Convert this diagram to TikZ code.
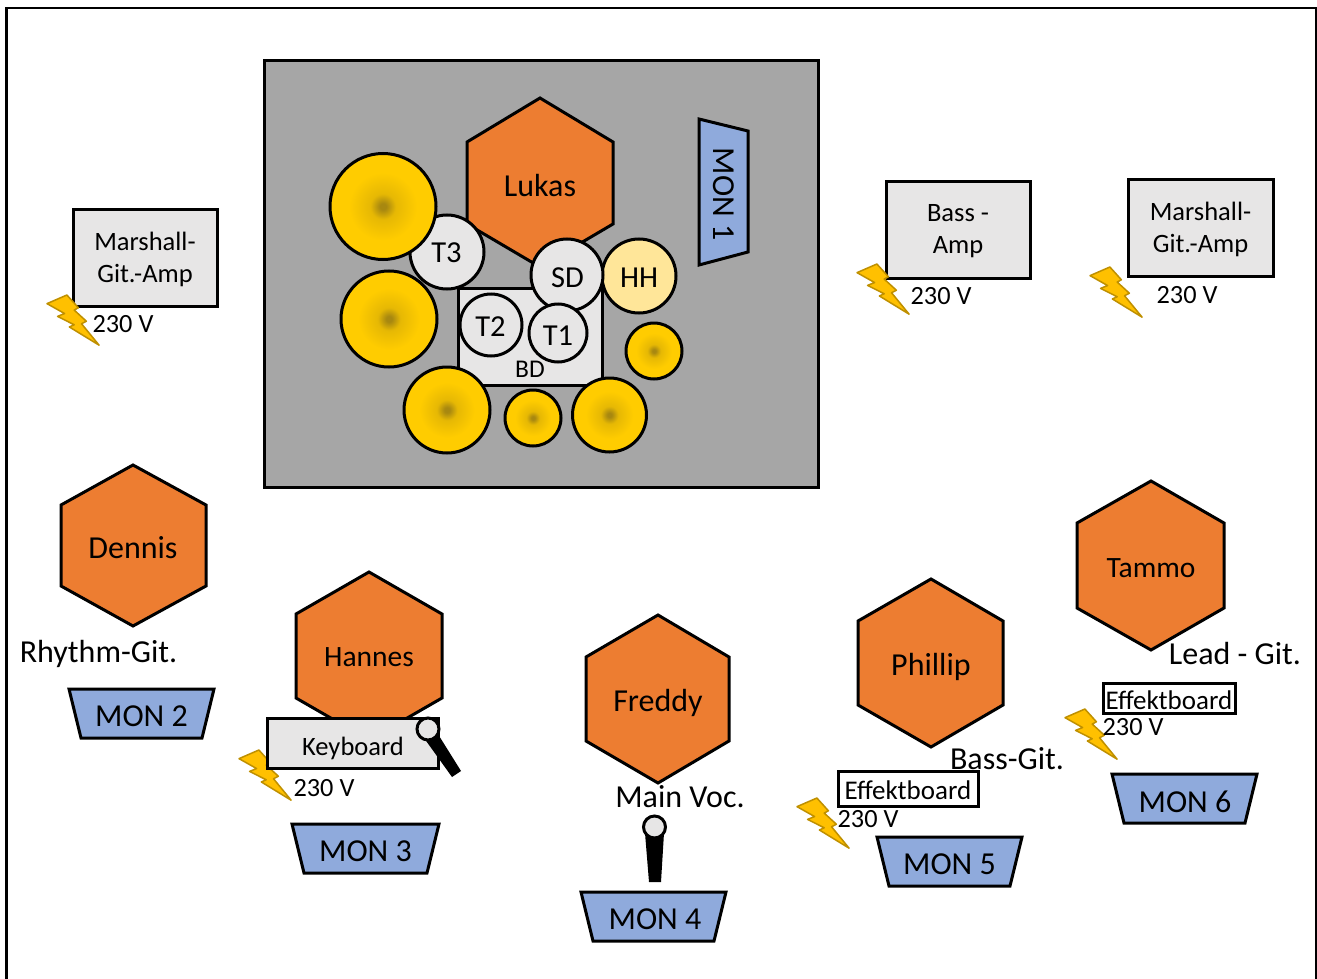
\documentclass[tikz,border=0pt]{standalone}
\usepackage{fontspec}
\setmainfont{Carlito}
\definecolor{hexfill}{HTML}{ED7D31}
\definecolor{lightg}{HTML}{E7E6E6}
\definecolor{rise}{HTML}{A6A6A6}
\definecolor{monblue}{HTML}{8FAADC}
\definecolor{cymY}{HTML}{FFCC00}
\definecolor{cymD}{HTML}{A88810}
\definecolor{cymM}{HTML}{E6B804}
\definecolor{hhfill}{HTML}{FFE699}
\definecolor{boltF}{HTML}{FFC000}
\definecolor{boltS}{HTML}{BF9000}
\pgfdeclareradialshading{cymbal}{\pgfpoint{0bp}{0bp}}{color(0bp)=(cymD); color(1.5bp)=(cymD); color(6bp)=(cymM); color(16bp)=(cymY); color(50bp)=(cymY)}
\tikzset{
  outl/.style={draw=black,line width=3pt,line join=miter},
  lab/.style={inner sep=0pt,align=center,text=black},
  big/.style={lab,font=\fontsize{32}{35}\selectfont},
  med/.style={lab,font=\fontsize{30.5}{33}\selectfont},
  namelab/.style={lab,font=\fontsize{29.5}{33}\selectfont},
  small/.style={lab,font=\fontsize{26.5}{32}\selectfont},
  eff/.style={lab,font=\fontsize{27}{30}\selectfont},
  volt/.style={lab,font=\fontsize{26.3}{28}\selectfont},
  tiny/.style={lab,font=\fontsize{25.5}{28}\selectfont},
}
% #1 name, #2 cx, #3 left, #4 right, #5 top, #6 sh1, #7 sh2, #8 bottom
\newcommand{\hexa}[8]{\path[outl,fill=hexfill] (#3,#6) -- (#2,#5) -- (#4,#6) -- (#4,#7) -- (#2,#8) -- (#3,#7) -- cycle;}
% #1 x top-left, #2 x top-right, #3 top y
\newcommand{\mon}[3]{\path[outl,fill=monblue] (#1,#3) -- (#2,#3) -- (#2-12,#3+49) -- (#1+12,#3+49) -- cycle;}
\newcommand{\cym}[3]{\shade[shading=cymbal] (#1,#2) circle[radius=#3]; \draw[outl] (#1,#2) circle[radius=#3];}
\newcommand{\bolt}[2]{\begin{scope}[shift={(#1,#2)},scale=0.96]
\path[draw=boltS,fill=boltF,line width=1.5pt,line join=round] (0,9) -- (20.7,0) -- (32.7,13.3) -- (28.3,15.7) -- (41,27.3) -- (36,30) -- (54.3,52.3) -- (23.3,33.3) -- (28.3,31) -- (11,22.3) -- (18.3,19.3) -- cycle;
\end{scope}}
\begin{document}
\begin{tikzpicture}[x=1pt,y=-1pt]
\useasboundingbox (0,0) rectangle (1317,979);
\fill[white] (0,0) rectangle (1317,979);
\draw[draw=black,line width=2.2pt] (6.5,990) -- (6.5,8) -- (1316,8) -- (1316,990);
% riser
\draw[outl,fill=rise] (264,61) rectangle (818,487);
% Lukas
\hexa{lukas}{540}{467}{613}{98}{142}{224}{267}
\node[big] (lukasL) at (540,185.5) {Lukas};
% BD
\draw[outl,fill=lightg] (458,288) rectangle (602,385);
\node[tiny] (bd) at (530,369) {BD};
% HH
\draw[outl,fill=hhfill] (639,276) circle[radius=37];
\node[med] (hh) at (639,278) {HH};
% SD
\draw[outl,fill=lightg] (567,275) circle[radius=36];
\node[med] (sd) at (567.5,278) {SD};
% T3
\draw[outl,fill=lightg] (447,252) circle[radius=37];
\node[med] (t3) at (446.5,253) {T3};
% T2, T1
\draw[outl,fill=lightg] (491,325) circle[radius=31];
\node[med] (t2) at (490.5,327) {T2};
\draw[outl,fill=lightg] (558,333) circle[radius=29];
\node[med] (t1) at (558,335.5) {T1};
% cymbals
\cym{383}{206.5}{53}
\cym{389}{319}{48}
\cym{447}{410}{43}
\cym{533}{418}{28}
\cym{609.5}{415}{37}
\cym{654}{351}{28}
% MON 1
\path[outl,fill=monblue] (699,119) -- (748,131) -- (748,252) -- (699,265) -- cycle;
\node[big,rotate=-90] (mon1) at (724,194) {MON 1};
% amps
\draw[outl,fill=lightg] (73,209) rectangle (217,306);
\node[small] (amp1) at (145,259) {Marshall-\\Git.-Amp};
\draw[outl,fill=lightg] (886,181) rectangle (1030,278);
\node[small] (amp2) at (958,231.5) {Bass -\\Amp};
\draw[outl,fill=lightg] (1128,179) rectangle (1273,276);
\node[small] (amp3) at (1200.5,229) {Marshall-\\Git.-Amp};
% bolts
\bolt{47}{295}
\bolt{857}{264}
\bolt{1090}{267}
\bolt{239}{750}
\bolt{1065}{709}
\bolt{797}{798}
\node[volt] (v1) at (123,324) {230 V};
\node[volt] (v2) at (941,296) {230 V};
\node[volt] (v3) at (1187,295) {230 V};
\node[volt] (v4) at (324,788) {230 V};
\node[volt] (v5) at (868,819) {230 V};
\node[volt] (v6) at (1133,727) {230 V};
% musicians
\hexa{dennis}{133}{61}{206}{465}{505}{586}{626}
\node[big] (dennisL) at (133,547.5) {Dennis};
\hexa{hannes}{369}{296}{442}{572}{614}{698}{740}
\node[namelab] (hannesL) at (369,657.5) {Hannes};
\hexa{freddy}{658}{586}{729}{615}{657}{741}{783}
\node[big] (freddyL) at (658,702.5) {Freddy};
\hexa{phillip}{931}{858}{1003}{579}{621}{705}{747}
\node[big] (phillipL) at (931,667) {Phillip};
\hexa{tammo}{1151}{1077}{1224}{481}{523}{608}{650}
\node[namelab] (tammoL) at (1151,568) {Tammo};
% keyboard
\draw[outl,fill=lightg] (267,718) rectangle (438,768);
\node[small] (kb) at (353,748) {Keyboard};
\fill[black] (424,738) -- (436,731) -- (461,771) -- (452,777) -- cycle;
\draw[outl,fill=lightg] (428,729) circle[radius=11];
% Freddy mic
\fill[black] (645,833) -- (664,833) -- (661,882) -- (649,882) -- cycle;
\draw[outl,fill=lightg] (654.5,827) circle[radius=11];
% effect boards
\draw[outl,fill=white] (1103,683) rectangle (1235,713);
\node[eff] (eff1) at (1169,700) {Effektboard};
\draw[outl,fill=white] (838,771) rectangle (978,806);
\node[eff] (eff2) at (908,790) {Effektboard};
% role labels
\node[big] (r1) at (98.5,654) {Rhythm-Git.};
\node[big] (r2) at (1235,653.5) {Lead - Git.};
\node[big] (r3) at (680,797) {Main Voc.};
\node[big] (r4) at (1007,759) {Bass-Git.};
% monitors
\mon{69}{214}{689}
\node[big] (mon2) at (141.5,716.5) {MON 2};
\mon{292}{439}{824}
\node[big] (mon3) at (365.5,851.5) {MON 3};
\mon{581}{726}{892}
\node[big] (mon4) at (655,919.5) {MON 4};
\mon{877}{1022}{837}
\node[big] (mon5) at (949.5,864.5) {MON 5};
\mon{1112}{1257}{774}
\node[big] (mon6) at (1185,801.5) {MON 6};
\end{tikzpicture}
\end{document}
